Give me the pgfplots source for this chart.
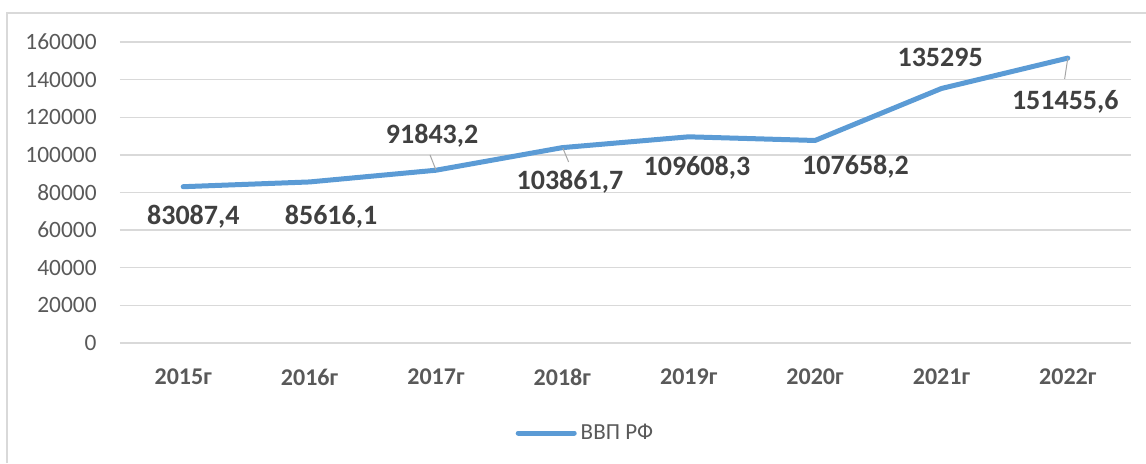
\documentclass[border=0pt]{standalone}
\usepackage{pgfplots}
\pgfplotsset{compat=1.18}
\usepackage{fontspec}
\setmainfont{Carlito}
\definecolor{lineblue}{HTML}{5B9BD5}
\definecolor{gridgray}{HTML}{D9D9D9}
\definecolor{lblgray}{HTML}{404040}
\definecolor{tickgray}{HTML}{595959}
\definecolor{leadergray}{HTML}{A6A6A6}
\begin{document}
\begin{tikzpicture}
\useasboundingbox (-60pt,-60pt) rectangle (513pt,171.5pt);
\draw[gridgray, line width=1pt] (-56.25pt,-60pt) -- (-56.25pt,165.25pt) -- (513pt,165.25pt);
\begin{axis}[
  at={(0pt,0pt)}, anchor=south west,
  scale only axis, width=505.5pt, height=150.5pt,
  xmin=-0.5, xmax=7.5, ymin=0, ymax=160000,
  clip=false,
  axis line style={draw=none},
  tick style={draw=none},
  ymajorgrids,
  major grid style={gridgray, line width=0.65pt},
  xtick={0,1,2,3,4,5,6,7},
  xticklabels={2015г,2016г,2017г,2018г,2019г,2020г,2021г,2022г},
  ytick={0,20000,40000,60000,80000,100000,120000,140000,160000},
  scaled y ticks=false,
  /pgf/number format/assume math mode=true,
  yticklabel style={/pgf/number format/.cd, fixed, 1000 sep={}, /tikz/.cd, anchor=east, inner sep=0pt, xshift=-11.5pt, font=\fontsize{11.7}{14}\selectfont, text=tickgray},
  xticklabel style={anchor=center, inner sep=0pt, yshift=-17pt, font=\fontsize{12}{14}\selectfont\bfseries, text=tickgray},
  legend style={at={(0.4614,-0.299)}, anchor=center, draw=none, fill=none, font=\fontsize{11.5}{14}\selectfont, text=tickgray, inner sep=0pt},
  legend image code/.code={\draw[#1, line cap=round] (0pt,0pt) -- (28pt,0pt);},
]
\addplot[lineblue, line width=2.5pt, line join=round, line cap=round] coordinates {
  (0,83087.4) (1,85616.1) (2,91843.2) (3,103861.7) (4,109608.3) (5,107658.2) (6,135295) (7,151455.6)
};
\addlegendentry{ВВП РФ}
\draw[leadergray, line width=0.5pt] (axis cs:1.953,100000) -- (axis cs:2,92000);
\draw[leadergray, line width=0.5pt] (axis cs:3.004,103670) -- (axis cs:3.05,96220);
\draw[leadergray, line width=0.5pt] (axis cs:7,151500) -- (axis cs:6.975,140350);
\tikzset{dl/.style={font=\fontsize{14}{16}\selectfont\bfseries, text=lblgray, inner sep=0pt}}
\node[dl] at (axis cs:0.08,67000) {83087,4};
\node[dl] at (axis cs:1.17,67000) {85616,1};
\node[dl] at (axis cs:1.97,110000) {91843,2};
\node[dl] at (axis cs:3.06,85600) {103861,7};
\node[dl] at (axis cs:4.065,93000) {109608,3};
\node[dl] at (axis cs:5.32,93600) {107658,2};
\node[dl] at (axis cs:5.99,151800) {135295};
\node[dl] at (axis cs:6.98,128100) {151455,6};
\end{axis}
\end{tikzpicture}
\end{document}
